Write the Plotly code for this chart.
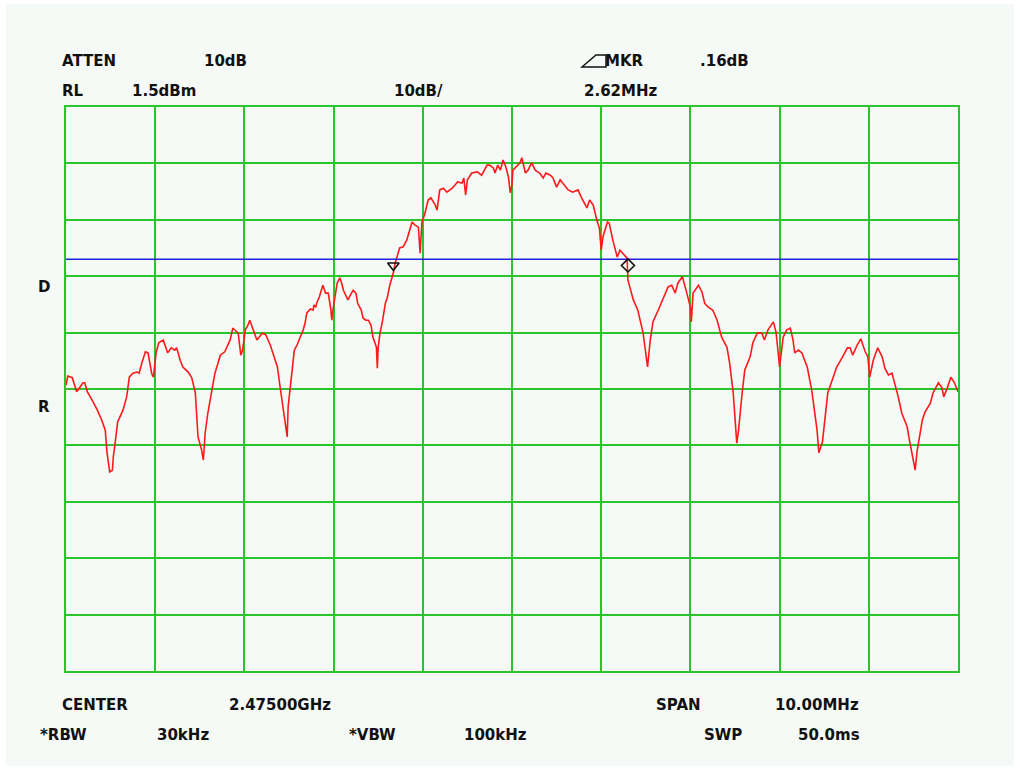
import plotly.graph_objects as go

# ---- data (frequency offset from centre in MHz, level in dBm) ----
center_mhz = 2475.0
span_mhz = 10.0
ref_level = 1.5
db_per_div = 10.0
display_line_dbm = -25.5

freq_offset = [
    -5.00, -4.98, -4.93, -4.88, -4.84, -4.81, -4.79, -4.76, -4.71, -4.65,
    -4.60, -4.56, -4.54, -4.51, -4.48, -4.47, -4.45, -4.42, -4.36, -4.32,
    -4.29, -4.25, -4.20, -4.18, -4.15, -4.11, -4.08, -4.04, -4.02, -3.99,
    -3.96, -3.91, -3.86, -3.82, -3.78, -3.76, -3.72, -3.69, -3.63, -3.59,
    -3.55, -3.52, -3.48, -3.46, -3.44, -3.41, -3.36, -3.33, -3.27, -3.22,
    -3.16, -3.13, -3.11, -3.07, -3.04, -3.02, -2.99, -2.96, -2.94, -2.90,
    -2.86, -2.80, -2.76, -2.71, -2.68, -2.63, -2.60, -2.57, -2.54, -2.52,
    -2.51, -2.49, -2.46, -2.44, -2.41, -2.38, -2.34, -2.32, -2.30, -2.26,
    -2.23, -2.22, -2.20, -2.19, -2.16, -2.13, -2.12, -2.09, -2.06, -2.03,
    -2.02, -2.01, -1.98, -1.96, -1.93, -1.91, -1.89, -1.85, -1.84, -1.80,
    -1.78, -1.75, -1.73, -1.69, -1.67, -1.64, -1.61, -1.58, -1.56, -1.52,
    -1.51, -1.50, -1.48, -1.45, -1.42, -1.40, -1.37, -1.33, -1.31, -1.26,
    -1.22, -1.18, -1.12, -1.09, -1.05, -1.03, -1.01, -0.98, -0.94, -0.91,
    -0.86, -0.84, -0.81, -0.77, -0.73, -0.67, -0.64, -0.61, -0.56, -0.54,
    -0.52, -0.50, -0.45, -0.39, -0.34, -0.28, -0.25, -0.21, -0.19, -0.16,
    -0.13, -0.10, -0.07, -0.04, -0.02, 0.00, 0.01, 0.06, 0.09, 0.11,
    0.15, 0.18, 0.22, 0.26, 0.31, 0.35, 0.38, 0.43, 0.46, 0.50,
    0.54, 0.57, 0.63, 0.68, 0.74, 0.78, 0.84, 0.87, 0.91, 0.95,
    0.98, 1.00, 1.02, 1.07, 1.09, 1.13, 1.18, 1.21, 1.24, 1.29,
    1.30, 1.36, 1.41, 1.47, 1.51, 1.52, 1.55, 1.58, 1.64, 1.69,
    1.75, 1.79, 1.83, 1.86, 1.91, 1.96, 2.00, 2.01, 2.03, 2.09,
    2.13, 2.16, 2.20, 2.25, 2.30, 2.35, 2.41, 2.44, 2.48, 2.52,
    2.54, 2.58, 2.61, 2.67, 2.70, 2.75, 2.80, 2.83, 2.87, 2.93,
    2.96, 3.00, 3.04, 3.08, 3.12, 3.15, 3.17, 3.21, 3.25, 3.31,
    3.36, 3.42, 3.44, 3.48, 3.51, 3.54, 3.59, 3.64, 3.70, 3.76,
    3.79, 3.82, 3.87, 3.91, 3.96, 3.99, 4.01, 4.05, 4.10, 4.15,
    4.18, 4.22, 4.26, 4.29, 4.33, 4.37, 4.43, 4.46, 4.50, 4.52,
    4.54, 4.60, 4.63, 4.69, 4.72, 4.78, 4.82, 4.84, 4.88, 4.92,
    4.96, 5.00,
]

level_dbm = [
    -47.8, -46.2, -46.5, -49.0, -48.1, -47.4, -47.4, -49.0, -50.4, -52.2,
    -54.0, -55.8, -59.8, -63.2, -62.9, -60.6, -58.1, -54.3, -52.2, -49.9,
    -46.4, -45.7, -45.5, -45.7, -43.9, -41.9, -42.1, -45.7, -46.4, -42.1,
    -40.3, -39.8, -42.1, -41.2, -41.6, -41.2, -43.4, -44.6, -45.5, -46.5,
    -49.2, -57.0, -59.3, -61.1, -56.3, -52.8, -48.3, -45.7, -42.5, -41.9,
    -39.8, -37.7, -38.0, -38.6, -42.5, -41.6, -38.0, -37.2, -36.3, -38.0,
    -39.8, -38.6, -38.9, -40.7, -42.1, -44.6, -48.1, -51.7, -55.2, -57.0,
    -51.7, -48.7, -45.1, -41.6, -40.7, -39.5, -38.0, -36.8, -35.0, -34.3,
    -34.5, -33.6, -34.0, -33.3, -32.2, -30.6, -30.1, -31.5, -31.5, -34.5,
    -36.3, -34.8, -31.8, -29.7, -28.8, -29.7, -31.0, -32.2, -32.7, -31.5,
    -31.0, -31.5, -33.3, -34.5, -35.9, -36.3, -36.3, -37.2, -39.3, -41.1,
    -44.8, -41.1, -38.6, -36.3, -33.3, -32.4, -30.1, -27.9, -26.2, -23.5,
    -23.3, -22.1, -18.9, -19.4, -19.8, -24.4, -18.9, -17.6, -15.0, -14.6,
    -15.9, -16.8, -13.2, -12.9, -13.6, -12.9, -12.3, -11.8, -12.0, -11.1,
    -14.1, -11.4, -10.2, -10.0, -10.6, -8.8, -8.8, -9.3, -10.2, -8.8,
    -9.7, -7.9, -9.1, -10.9, -13.7, -12.3, -9.7, -8.8, -8.4, -7.5,
    -10.2, -9.7, -8.4, -9.7, -10.2, -11.1, -10.2, -10.6, -11.1, -12.7,
    -11.4, -12.0, -13.2, -13.6, -13.2, -14.6, -16.4, -15.0, -15.9, -18.5,
    -20.0, -23.9, -21.5, -18.9, -19.1, -22.1, -25.1, -23.9, -24.4, -25.3,
    -29.2, -32.7, -34.5, -38.6, -43.4, -44.6, -39.8, -36.6, -34.5, -32.7,
    -30.4, -30.1, -31.5, -29.7, -28.6, -31.5, -34.0, -36.6, -31.5, -30.1,
    -31.3, -33.3, -34.0, -34.5, -36.3, -39.3, -41.1, -43.9, -49.2, -58.1,
    -55.8, -49.2, -45.1, -42.8, -40.3, -38.6, -38.6, -39.8, -38.0, -36.6,
    -38.4, -44.6, -39.3, -38.0, -37.7, -39.8, -42.1, -41.6, -42.1, -44.6,
    -48.7, -55.8, -59.8, -57.9, -53.5, -49.2, -46.9, -44.6, -43.0, -41.2,
    -41.2, -42.5, -40.7, -39.6, -41.9, -42.8, -46.4, -43.4, -41.2, -42.8,
    -44.8, -46.0, -45.7, -47.4, -49.9, -52.8, -55.2, -57.9, -61.6, -62.9,
    -59.7, -54.0, -52.6, -51.0, -49.2, -47.4, -48.3, -49.9, -48.3, -46.4,
    -47.4, -49.0,
]

marker_offsets = [-1.33, 1.30]
marker_levels = [-26.6, -26.6]
marker_symbols = ["triangle-down-open", "diamond-open"]

top_labels = [("ATTEN", 61, 61), ("10dB", 203, 61), ("RL", 61, 91), ("1.5dBm", 131, 91),
              ("10dB/", 393, 91), ("MKR", 604, 61), (".16dB", 699, 61),
              ("2.62MHz", 583, 91)]
bottom_labels = [("CENTER", 61, 705), ("2.47500GHz", 228, 705), ("SPAN", 655, 705),
                 ("10.00MHz", 774, 705), ("*RBW", 39, 735), ("30kHz", 156, 735),
                 ("*VBW", 348, 735), ("100kHz", 463, 735), ("SWP", 703, 735),
                 ("50.0ms", 797, 735)]
side_labels = [("D", 37, 287), ("R", 37, 407)]

# ---- layout geometry ----
W, H = 1020, 770
L, R, T, B = 66, 958, 107, 671

def px(x):
    return (x - L) / (R - L)

def py(y):
    return (B - y) / (B - T)

freqs = [center_mhz + f for f in freq_offset]
mk_freqs = [center_mhz + f for f in marker_offsets]

GREEN = "#2cc42c"
BG = "#f6faf6"
INK = "#111111"

fig = go.Figure()
fig.add_trace(go.Scatter(
    x=freqs, y=level_dbm, mode="lines",
    line=dict(color="#ff1a1a", width=1.6), hoverinfo="skip", showlegend=False))
fig.add_trace(go.Scatter(
    x=[center_mhz - span_mhz / 2, center_mhz + span_mhz / 2],
    y=[display_line_dbm, display_line_dbm], mode="lines",
    line=dict(color="#2323dc", width=1.6), hoverinfo="skip", showlegend=False))
fig.add_trace(go.Scatter(
    x=mk_freqs, y=marker_levels, mode="markers",
    marker=dict(symbol=marker_symbols, size=10, color=INK,
                line=dict(color=INK, width=1.6)),
    hoverinfo="skip", showlegend=False))

annotations = []
for txt, x, y in top_labels + bottom_labels + side_labels:
    annotations.append(dict(
        text=txt, x=px(x), y=py(y), xref="paper", yref="paper",
        xanchor="left", yanchor="middle", showarrow=False,
        font=dict(family="DejaVu Sans", size=15, color=INK, weight="bold"),
        borderpad=0))

# delta-marker glyph drawn as a wide outlined triangle next to "MKR"
delta_shape = dict(type="path", xref="paper", yref="paper",
                   path="M {} {} L {} {} L {} {} L {} {} Z".format(
                       px(582), py(67), px(596), py(55), px(606), py(55),
                       px(606), py(67)),
                   line=dict(color=INK, width=1.5), fillcolor="rgba(0,0,0,0)")

fig.update_layout(
    width=W, height=H,
    margin=dict(l=L, r=W - R, t=T, b=H - B, pad=0),
    paper_bgcolor="white", plot_bgcolor=BG,
    annotations=annotations,
    shapes=[dict(type="rect", xref="paper", yref="paper",
                 x0=px(6), x1=px(1014), y0=py(766), y1=py(4),
                 fillcolor=BG, line=dict(width=0), layer="below"),
            delta_shape],
)
fig.update_xaxes(
    range=[center_mhz - span_mhz / 2, center_mhz + span_mhz / 2],
    dtick=span_mhz / 10, tick0=center_mhz, showticklabels=False, ticks="",
    showgrid=True, gridcolor=GREEN, gridwidth=2, zeroline=False,
    showline=True, linecolor=GREEN, linewidth=2, mirror=True)
fig.update_yaxes(
    range=[ref_level - 10 * db_per_div, ref_level],
    dtick=db_per_div, tick0=ref_level, showticklabels=False, ticks="",
    showgrid=True, gridcolor=GREEN, gridwidth=2, zeroline=False,
    showline=True, linecolor=GREEN, linewidth=2, mirror=True)

fig.write_html("out.html")
